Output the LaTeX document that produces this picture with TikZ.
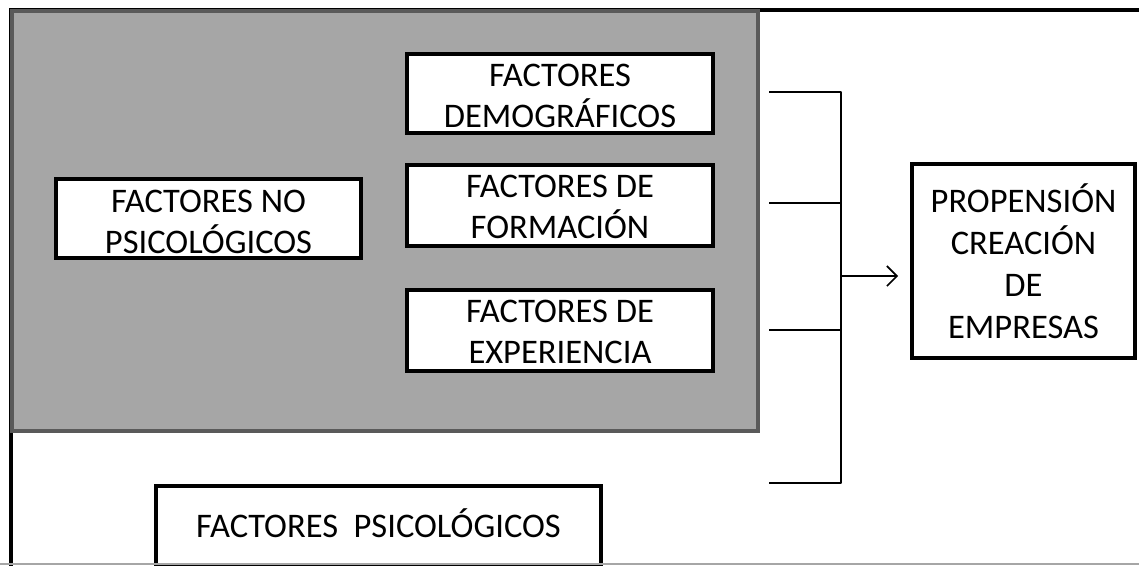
\documentclass[tikz,border=0pt]{standalone}
\usepackage{fontspec}
\setmainfont{Carlito}
\usetikzlibrary{arrows.meta}
\definecolor{panelgray}{HTML}{A6A6A6}
\definecolor{panelborder}{HTML}{5A5A5A}
\newcommand\up[1]{\rule{0pt}{#1}}
\tikzset{
  box/.style={draw=black, line width=4pt, fill=white, inner sep=0pt, align=center,
    font=\fontsize{34.5}{41}\selectfont},
  link/.style={draw=black, line width=2.5pt},
}
\begin{document}
\begin{tikzpicture}[x=1pt,y=-1pt]
\useasboundingbox (0,0) rectangle (1139,565);
\clip (0,0) rectangle (1139,565);
\fill[white] (0,0) rectangle (1139,565);
% outer frame
\draw[black, line width=3.5pt] (11,620) -- (11,10) -- (1200,10);
% grey panel
\draw[fill=panelgray, draw=panelborder, line width=4pt] (12,11) rectangle (758,431);
% boxes
\node[box, minimum width=306pt, minimum height=79pt] (demo) at (560,93.5) {\up{28pt}FACTORES\\DEMOGRÁFICOS};
\node[box, minimum width=306pt, minimum height=81pt] (form) at (560,205.5) {\up{26pt}FACTORES DE\\FORMACIÓN};
\node[box, minimum width=306pt, minimum height=81pt] (exp) at (560,330.5) {\up{26pt}FACTORES DE\\EXPERIENCIA};
\node[box, minimum width=305pt, minimum height=79pt] (nopsi) at (208.5,218.5) {\up{30pt}FACTORES NO\\PSICOLÓGICOS};
\node[box, minimum width=445pt, minimum height=80pt] (psi) at (378.5,526) {FACTORES\ \ PSICOLÓGICOS\rule[-6pt]{0pt}{6pt}};
\node[box, minimum width=223pt, minimum height=194pt, font=\fontsize{34.5}{42}\selectfont] (prop) at (1023.5,261) {PROPENSIÓN\\CREACIÓN\\DE\\EMPRESAS};
% bracket
\coordinate (t1) at (769,92);
\coordinate (t2) at (769,203);
\coordinate (t3) at (769,330);
\coordinate (t4) at (769,483);
\coordinate (b1) at (841,92);
\coordinate (b2) at (841,203);
\coordinate (b3) at (841,330);
\coordinate (b4) at (841,483);
\coordinate (bm) at (841,276);
\draw[link, line join=round] (t1) -- (b1) -- (b4) -- (t4);
\draw[link, line width=2pt] (t2) -- (b2);
\draw[link, line width=2pt] (t3) -- (b3);
\draw[line width=1.6pt, -{Straight Barb[length=10pt,width=20pt]}, shorten >=12pt] (bm) -- (prop.west |- bm);
% bottom edge
\draw[gray!70, line width=1.5pt] (0,564.2) -- (1139,564.2);
\end{tikzpicture}
\end{document}
